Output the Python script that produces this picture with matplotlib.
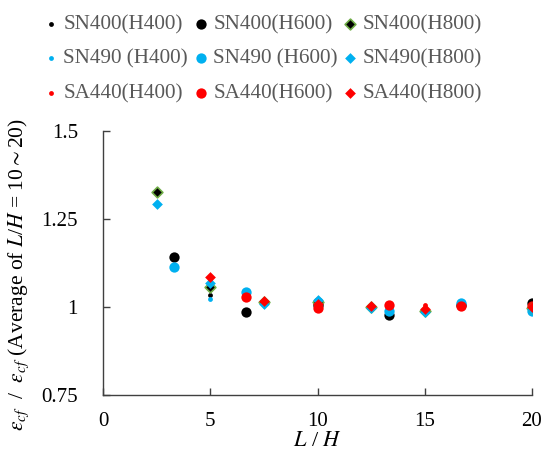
import matplotlib
matplotlib.use('Agg')
import matplotlib.pyplot as plt
import numpy as np

plt.rcParams['font.family'] = ['Liberation Serif', 'DejaVu Serif']
plt.rcParams['mathtext.fontset'] = 'stix'

# L/H positions for each beam depth
x_h400 = [5, 10, 15, 20]
x_h600 = [3.33, 6.67, 10, 13.33, 16.67, 20]
x_h800 = [2.5, 5, 7.5, 10, 12.5, 15, 20]
x_sa600 = [6.67, 10, 13.33, 16.67, 20]
x_sa800 = [5, 7.5, 10, 12.5, 15, 20]

sn400_h400 = [1.035, 1.005, 0.995, 1.000]
sn400_h600 = [1.143, 0.986, 1.005, 0.976, 1.005, 1.012]
sn400_h800 = [1.328, 1.056, 1.013, 1.013, 1.000, 0.990, 0.997]
sn490_h400 = [1.023, 1.000, 0.995, 1.005]
sn490_h600 = [1.115, 1.044, 1.015, 0.990, 1.010, 0.990]
sn490_h800 = [1.292, 1.067, 1.008, 1.020, 0.997, 0.987, 0.995]
sa440_h400 = [1.075, 0.995, 1.006, 0.999]
sa440_h600 = [1.027, 0.997, 1.007, 1.003, 1.003]
sa440_h800 = [1.084, 1.018, 1.008, 1.003, 0.993, 1.000]

black = '#000000'
blue = '#00B0F0'
red = '#FF0000'
green = '#70AD47'

fig = plt.figure(figsize=(5.42, 4.61), dpi=100)
ax = fig.add_axes([103/542, 1-395/461, (532-103)/542, (395-131)/461])

h = {}
h['SN400(H400)'] = ax.scatter(x_h400, sn400_h400, s=12, c=black, marker='o', lw=0)
h['SN490 (H400)'] = ax.scatter(x_h400, sn490_h400, s=12, c=blue, marker='o', lw=0)
h['SA440(H400)'] = ax.scatter(x_h400, sa440_h400, s=12, c=red, marker='o', lw=0)
h['SN400(H600)'] = ax.scatter(x_h600, sn400_h600, s=55, c=black, marker='o', lw=0)
h['SN490 (H600)'] = ax.scatter(x_h600, sn490_h600, s=55, c=blue, marker='o', lw=0)
h['SA440(H600)'] = ax.scatter(x_sa600, sa440_h600, s=55, c=red, marker='o', lw=0)
h['SN400(H800)'] = ax.scatter(x_h800, sn400_h800, s=30, c=black, marker='D', edgecolors=green, lw=1.2)
h['SN490(H800)'] = ax.scatter(x_h800, sn490_h800, s=30, c=blue, marker='D', lw=0)
h['SA440(H800)'] = ax.scatter(x_sa800, sa440_h800, s=30, c=red, marker='D', lw=0)

ax.set_xlim(0, 20)
ax.set_ylim(0.75, 1.5)
ax.set_xticks([0, 5, 10, 15, 20])
ax.set_yticks([0.75, 1, 1.25, 1.5])
ax.set_yticklabels(['0.75', '1', '1.25', '1.5'])
ax.tick_params(direction='in', length=5, width=1, labelsize=15, colors='#404040', labelcolor='#000000')
ax.tick_params(axis='y', pad=18)
ax.tick_params(axis='x', pad=12)
for s in ['top', 'right']:
    ax.spines[s].set_visible(False)
for s in ['left', 'bottom']:
    ax.spines[s].set_color('#404040')
    ax.spines[s].set_linewidth(1)

ax.set_xlabel('$L$ / $H$', fontsize=16, labelpad=1)
ax.set_ylabel(r'$\varepsilon_{cf}$  /  $\varepsilon_{cf}$ (Average of $L$/$H$ = 10$\sim$20)', fontsize=15.5)
ax.yaxis.set_label_coords(-0.168, 0.455)

order = ['SN400(H400)', 'SN490 (H400)', 'SA440(H400)',
         'SN400(H600)', 'SN490 (H600)', 'SA440(H600)',
         'SN400(H800)', 'SN490(H800)', 'SA440(H800)']
fig.legend([h[k] for k in order], order, ncol=3, loc='upper center',
           bbox_to_anchor=(0.482, 1.01), frameon=False, fontsize=15.2,
           labelcolor='#595959', handletextpad=0.1, columnspacing=0.1,
           handlelength=1.0, labelspacing=0.7)

fig.savefig('out.png', dpi=100)
